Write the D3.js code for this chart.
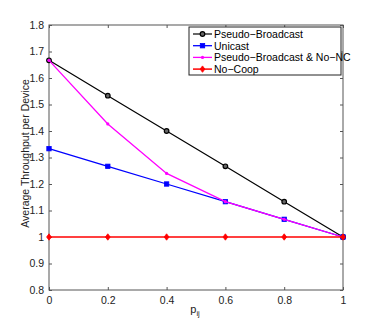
<!DOCTYPE html>
<html>
<head>
<meta charset="utf-8">
<script src="https://cdn.jsdelivr.net/npm/d3@7"></script>
<style>
  body { margin: 0; background: #fff; }
  svg { font-family: "Liberation Sans", Arial, sans-serif; }
</style>
</head>
<body>
<svg id="chart" width="379" height="327"></svg>
<script>
const pValues = [0, 0.2, 0.4, 0.6, 0.8, 1];
const pseudoBroadcast = [1.6667, 1.5333, 1.4, 1.2667, 1.1333, 1.0];
const unicast = [1.3333, 1.2667, 1.2, 1.1333, 1.0667, 1.0];
const pseudoNoNC = [1.6667, 1.4267, 1.24, 1.1333, 1.0667, 1.0];
const noCoop = [1, 1, 1, 1, 1, 1];
const seriesNames = ["Pseudo\u2212Broadcast", "Unicast", "Pseudo\u2212Broadcast & No\u2212NC", "No\u2212Coop"];
const xTicks = [0, 0.2, 0.4, 0.6, 0.8, 1];
const yTicks = [0.8, 0.9, 1, 1.1, 1.2, 1.3, 1.4, 1.5, 1.6, 1.7, 1.8];

const margin = ({top: 25, right: 36, bottom: 37, left: 49});
const width = 379, height = 327;

const xScale = d3.scaleLinear().domain([0, 1]).range([margin.left, width - margin.right]);
const yScale = d3.scaleLinear().domain([0.8, 1.8]).range([height - margin.bottom, margin.top]);

const svg = d3.select("#chart");
const axisColor = "#555";
const fontSize = "10.5px";

// box
svg.append("rect")
    .attr("x", margin.left).attr("y", margin.top)
    .attr("width", xScale(1) - xScale(0))
    .attr("height", yScale(0.8) - yScale(1.8))
    .attr("fill", "#fff")
    .attr("stroke", axisColor).attr("stroke-width", 1);

const fmt = d => d === 0 ? "0" : d === 1 ? "1" : d3.format(".1f")(d);

const styleAxis = g => {
    g.select(".domain").remove();
    g.selectAll("line").attr("stroke", axisColor);
    g.selectAll("text").attr("fill", "#222").style("font-size", fontSize);
};

svg.append("g")
    .attr("transform", `translate(0,${yScale(0.8)})`)
    .call(d3.axisBottom(xScale).tickValues(xTicks).tickFormat(fmt).tickSizeInner(-3).tickSizeOuter(0).tickPadding(7))
    .call(styleAxis);
svg.append("g")
    .attr("transform", `translate(0,${yScale(1.8)})`)
    .call(d3.axisTop(xScale).tickValues(xTicks).tickFormat("").tickSizeInner(-3).tickSizeOuter(0))
    .call(styleAxis);
svg.append("g")
    .attr("transform", `translate(${xScale(0)},0)`)
    .call(d3.axisLeft(yScale).tickValues(yTicks).tickFormat(fmt).tickSizeInner(-3).tickSizeOuter(0).tickPadding(5))
    .call(styleAxis);
svg.append("g")
    .attr("transform", `translate(${xScale(1)},0)`)
    .call(d3.axisRight(yScale).tickValues(yTicks).tickFormat("").tickSizeInner(-3).tickSizeOuter(0))
    .call(styleAxis);

// labels
svg.append("text")
    .attr("transform", `translate(29,${(yScale(0.8) + yScale(1.8)) / 2 - 4}) rotate(-90)`)
    .attr("text-anchor", "middle")
    .style("font-size", fontSize).attr("fill", "#222")
    .text("Average Throughput per Device");

const xl = svg.append("text")
    .attr("x", (xScale(0) + xScale(1)) / 2 - 1).attr("y", 313)
    .attr("text-anchor", "middle")
    .style("font-size", "11px").attr("fill", "#222");
xl.append("tspan").text("p");
xl.append("tspan").attr("dy", 3).style("font-size", "7.5px").text("ij");

const series = [
    {name: seriesNames[0], values: pseudoBroadcast, color: "#000000", marker: "circle", lw: 1.2},
    {name: seriesNames[1], values: unicast, color: "#0000ff", marker: "square", lw: 1.3},
    {name: seriesNames[2], values: pseudoNoNC, color: "#ff00ff", marker: "dot", lw: 1.3},
    {name: seriesNames[3], values: noCoop, color: "#ff0000", marker: "diamond", lw: 1.5}
];

const line = d3.line().x((d, i) => xScale(pValues[i])).y(d => yScale(d));

const drawMarker = (g, type, color, x, y) => {
    if (type === "circle") {
        g.append("circle").attr("cx", x).attr("cy", y).attr("r", 2.3)
            .attr("fill", "#666").attr("stroke", color).attr("stroke-width", 1.2);
    } else if (type === "square") {
        g.append("rect").attr("x", x - 2.2).attr("y", y - 2.2).attr("width", 4.4).attr("height", 4.4)
            .attr("fill", color).attr("stroke", color).attr("stroke-width", 0.8);
    } else if (type === "dot") {
        g.append("circle").attr("cx", x).attr("cy", y).attr("r", 1.6)
            .attr("fill", color);
    } else if (type === "diamond") {
        g.append("path").attr("d", `M${x},${y - 3.2}L${x + 2.4},${y}L${x},${y + 3.2}L${x - 2.4},${y}Z`)
            .attr("fill", color).attr("stroke", color).attr("stroke-width", 0.8);
    }
};

series.forEach(s => {
    const g = svg.append("g");
    g.append("path").datum(s.values)
        .attr("d", line)
        .attr("fill", "none")
        .attr("stroke", s.color)
        .attr("stroke-width", s.lw);
    s.values.forEach((v, i) => drawMarker(g, s.marker, s.color, xScale(pValues[i]), yScale(v)));
});

// legend
const legend = svg.append("g");
legend.append("rect")
    .attr("x", 189).attr("y", 27).attr("width", 152).attr("height", 48)
    .attr("fill", "#fff").attr("stroke", "#222").attr("stroke-width", 1);
series.forEach((s, i) => {
    const y = 34 + i * 11.7;
    legend.append("line").attr("x1", 193).attr("x2", 212).attr("y1", y).attr("y2", y)
        .attr("stroke", s.color).attr("stroke-width", s.lw);
    drawMarker(legend, s.marker, s.color, 202.5, y);
    legend.append("text").attr("x", 214).attr("y", y + 4)
        .style("font-size", fontSize).attr("fill", "#000")
        .text(s.name);
});
</script>
</body>
</html>
